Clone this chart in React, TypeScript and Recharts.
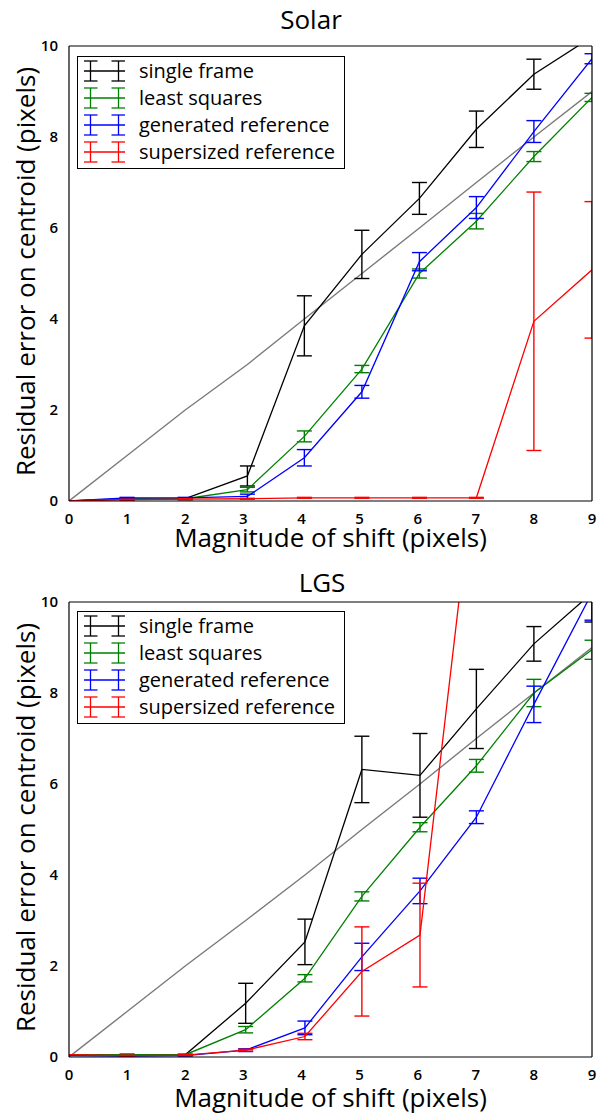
import { LineChart, Line, XAxis, YAxis, ErrorBar } from 'recharts'

const FONT = '"Open Sans", "DejaVu Sans", sans-serif'

// axis ticks
const shiftTicks = [0, 1, 2, 3, 4, 5, 6, 7, 8, 9]
const errorTicks = [0, 2, 4, 6, 8, 10]

// Solar panel
const solarShift = [0, 1, 2, 3.07, 4.05, 5.04, 6.03, 7.01, 8, 9]
const solarIdeal = [0, 1, 2, 3, 4, 5, 6, 7, 8, 9]
const solarSingle = [0, 0.04, 0.05, 0.55, 3.85, 5.42, 6.65, 8.17, 9.38, 10.2]
const solarSingleErr = [0, 0.02, 0.02, 0.22, 0.66, 0.53, 0.35, 0.4, 0.33, 0.15]
const solarLsq = [0, 0.05, 0.05, 0.25, 1.42, 2.9, 5.0, 6.15, 7.57, 8.87]
const solarLsqErr = [0, 0.01, 0.01, 0.05, 0.12, 0.08, 0.1, 0.17, 0.11, 0.09]
const solarGen = [0, 0.07, 0.07, 0.1, 0.95, 2.4, 5.26, 6.45, 8.12, 9.72]
const solarGenErr = [0, 0.01, 0.01, 0.05, 0.18, 0.14, 0.2, 0.24, 0.24, 0.11]
const solarSuper = [0, 0.03, 0.04, 0.05, 0.07, 0.07, 0.07, 0.07, 3.95, 5.08]
const solarSuperErr = [0, 0.01, 0.01, 0.01, 0.01, 0.01, 0.01, 0.01, 2.84, 1.5]

// LGS panel
const lgsShift = [0, 1, 2, 3.04, 4.06, 5.04, 6.04, 7.01, 8, 9]
const lgsIdeal = [0, 1, 2, 3, 4, 5, 6, 7, 8, 9]
const lgsSingle = [0.05, 0.05, 0.05, 1.18, 2.53, 6.32, 6.19, 7.65, 9.08, 10.2]
const lgsSingleErr = [0, 0.01, 0.01, 0.44, 0.5, 0.73, 0.92, 0.87, 0.38, 0.64]
const lgsLsq = [0.05, 0.05, 0.05, 0.6, 1.73, 3.53, 5.05, 6.4, 8.0, 8.95]
const lgsLsqErr = [0, 0.01, 0.01, 0.07, 0.08, 0.1, 0.1, 0.14, 0.3, 0.21]
const lgsGen = [0.03, 0.02, 0.03, 0.15, 0.64, 2.2, 3.65, 5.27, 7.75, 10.2]
const lgsGenErr = [0, 0.01, 0.01, 0.03, 0.15, 0.3, 0.28, 0.14, 0.4, 0.6]
const lgsSuper = [0.05, 0.03, 0.04, 0.15, 0.45, 1.88, 2.68, 13.3]
const lgsSuperErr = [0, 0.01, 0.01, 0.02, 0.07, 0.98, 1.14, 1.0]

const series = [
  { key: 'single', name: 'single frame', color: '#000000' },
  { key: 'lsq', name: 'least squares', color: '#008000' },
  { key: 'gen', name: 'generated reference', color: '#0000ff' },
  { key: 'super', name: 'supersized reference', color: '#ff0000' },
]

function buildRows(
  shift: number[],
  ideal: number[],
  vals: Record<string, number[]>,
  errs: Record<string, number[]>,
) {
  return shift.map((x, i) => {
    const row: Record<string, number | undefined> = { x, ideal: ideal[i] }
    for (const s of series) {
      row[s.key] = vals[s.key][i]
      row[s.key + 'Err'] = errs[s.key][i]
    }
    return row
  })
}

const solarRows = buildRows(
  solarShift,
  solarIdeal,
  { single: solarSingle, lsq: solarLsq, gen: solarGen, super: solarSuper },
  { single: solarSingleErr, lsq: solarLsqErr, gen: solarGenErr, super: solarSuperErr },
)
const lgsRows = buildRows(
  lgsShift,
  lgsIdeal,
  { single: lgsSingle, lsq: lgsLsq, gen: lgsGen, super: lgsSuper },
  { single: lgsSingleErr, lsq: lgsLsqErr, gen: lgsGenErr, super: lgsSuperErr },
)

const W = 598
const H = 557
const PLOT_LEFT = 69
const PLOT_RIGHT = 592
const PLOT_H = 455

function ErrGlyph({ color }: { color: string }) {
  return (
    <svg width={41} height={22} style={{ display: 'block' }}>
      <g stroke={color} strokeWidth={1.3} fill="none">
        <line x1={0} y1={11} x2={41} y2={11} />
        <line x1={6.5} y1={1} x2={6.5} y2={21} />
        <line x1={0} y1={1} x2={13.5} y2={1} />
        <line x1={0} y1={21} x2={13.5} y2={21} />
        <line x1={34.5} y1={1} x2={34.5} y2={21} />
        <line x1={27.5} y1={1} x2={41} y2={1} />
        <line x1={27.5} y1={21} x2={41} y2={21} />
      </g>
    </svg>
  )
}

function ErrLegend({ top }: { top: number }) {
  return (
    <div
      style={{
        position: 'absolute',
        left: 77,
        top,
        width: 268,
        height: 113,
        boxSizing: 'border-box',
        border: '1px solid #000',
        background: '#fff',
        fontFamily: FONT,
        fontSize: 20,
        color: '#000',
      }}
    >
      {series.map((s, i) => (
        <div
          key={s.key}
          style={{ position: 'absolute', left: 6, top: 3 + i * 27, height: 22, display: 'flex', alignItems: 'center' }}
        >
          <ErrGlyph color={s.color} />
          <span style={{ marginLeft: 14, lineHeight: '22px', whiteSpace: 'nowrap' }}>{s.name}</span>
        </div>
      ))}
    </div>
  )
}

interface PanelProps {
  id: string
  title: string
  titleX: number
  titleBase: number
  rows: Record<string, number | undefined>[]
  plotTop: number
  labelGap: number
  legendTop: number
  offsetTop: number
}

function Panel({ id, title, titleX, titleBase, rows, plotTop, labelGap, legendTop, offsetTop }: PanelProps) {
  const xAxisH = H - plotTop - PLOT_H
  const plotBottom = plotTop + PLOT_H
  const clipId = `plot-clip-${id}`
  const tickStyle = { fontFamily: FONT, fontSize: 15, fontWeight: 600, fill: '#000' }
  const frame = { stroke: '#000', strokeWidth: 1.2 }
  return (
    <div style={{ position: 'absolute', left: 0, top: offsetTop, width: W, height: H }}>
      <svg width={0} height={0} style={{ position: 'absolute' }}>
        <defs>
          <clipPath id={clipId}>
            <rect x={PLOT_LEFT} y={plotTop} width={PLOT_RIGHT - PLOT_LEFT} height={PLOT_H} />
          </clipPath>
        </defs>
      </svg>
      <LineChart
        width={W}
        height={H}
        data={rows}
        margin={{ top: plotTop, right: W - PLOT_RIGHT, bottom: 0, left: 0 }}
      >
        <XAxis
          xAxisId="x"
          dataKey="x"
          type="number"
          domain={[0, 9]}
          ticks={shiftTicks}
          interval={0}
          allowDataOverflow
          height={xAxisH}
          axisLine={false}
          tickLine={false}
          tickSize={0}
          tickMargin={12}
          tick={tickStyle}
          label={() => (
            <text
              x={(PLOT_LEFT + PLOT_RIGHT) / 2}
              y={plotBottom + labelGap}
              textAnchor="middle"
              style={{ fontFamily: FONT, fontSize: 26 }}
              fill="#000"
            >
              Magnitude of shift (pixels)
            </text>
          )}
        />
        <XAxis
          xAxisId="bottomTicks"
          type="number"
          domain={[0, 9]}
          ticks={shiftTicks}
          interval={0}
          allowDataOverflow
          mirror
          tick={false}
          tickSize={9}
          tickLine={frame}
          axisLine={frame}
        />
        <XAxis
          xAxisId="topTicks"
          orientation="top"
          type="number"
          domain={[0, 9]}
          ticks={shiftTicks}
          interval={0}
          allowDataOverflow
          mirror
          tick={false}
          tickSize={9}
          tickLine={frame}
          axisLine={frame}
        />
        <YAxis
          yAxisId="y"
          type="number"
          domain={[0, 10]}
          ticks={errorTicks}
          interval={0}
          allowDataOverflow
          width={PLOT_LEFT}
          axisLine={false}
          tickLine={false}
          tickSize={0}
          tickMargin={11}
          tick={tickStyle}
          label={() => {
            const cx = 25
            const cy = plotTop + PLOT_H / 2 - 2
            return (
              <text
                x={cx}
                y={cy}
                transform={`rotate(-90 ${cx} ${cy})`}
                textAnchor="middle"
                dominantBaseline="central"
                style={{ fontFamily: FONT, fontSize: 26 }}
                fill="#000"
              >
                Residual error on centroid (pixels)
              </text>
            )
          }}
        />
        <YAxis
          yAxisId="leftTicks"
          type="number"
          domain={[0, 10]}
          ticks={errorTicks}
          interval={0}
          allowDataOverflow
          mirror
          tick={false}
          tickSize={9}
          tickLine={frame}
          axisLine={frame}
        />
        <YAxis
          yAxisId="rightTicks"
          orientation="right"
          type="number"
          domain={[0, 10]}
          ticks={errorTicks}
          interval={0}
          allowDataOverflow
          mirror
          tick={false}
          tickSize={9}
          tickLine={frame}
          axisLine={frame}
        />
        <Line
          xAxisId="x"
          yAxisId="y"
          dataKey="ideal"
          stroke="#7a7a7a"
          strokeWidth={1.4}
          dot={false}
          activeDot={false}
          isAnimationActive={false}
        />
        {series.map((s) => (
          <Line
            key={s.key}
            xAxisId="x"
            yAxisId="y"
            dataKey={s.key}
            name={s.name}
            stroke={s.color}
            strokeWidth={1.3}
            dot={false}
            activeDot={false}
            isAnimationActive={false}
          >
            <ErrorBar
              dataKey={s.key + 'Err'}
              direction="y"
              width={7.5}
              stroke={s.color}
              strokeWidth={1.4}
              clipPath={`url(#${clipId})`}
              isAnimationActive={false}
            />
          </Line>
        ))}
      </LineChart>
      <div
        style={{
          position: 'absolute',
          left: titleX - 100,
          width: 200,
          top: titleBase - 23,
          textAlign: 'center',
          fontFamily: FONT,
          fontSize: 26,
          lineHeight: '26px',
          color: '#000',
        }}
      >
        {title}
      </div>
      <ErrLegend top={legendTop} />
    </div>
  )
}

export default function App() {
  return (
    <div style={{ position: 'absolute', left: 0, top: 0, width: W, height: 2 * H, background: '#fff' }}>
      <Panel
        id="solar"
        title="Solar"
        titleX={311}
        titleBase={29}
        rows={solarRows}
        plotTop={46}
        labelGap={46}
        legendTop={56}
        offsetTop={0}
      />
      <Panel
        id="lgs"
        title="LGS"
        titleX={322}
        titleBase={35}
        rows={lgsRows}
        plotTop={45}
        labelGap={50}
        legendTop={54}
        offsetTop={H}
      />
    </div>
  )
}
